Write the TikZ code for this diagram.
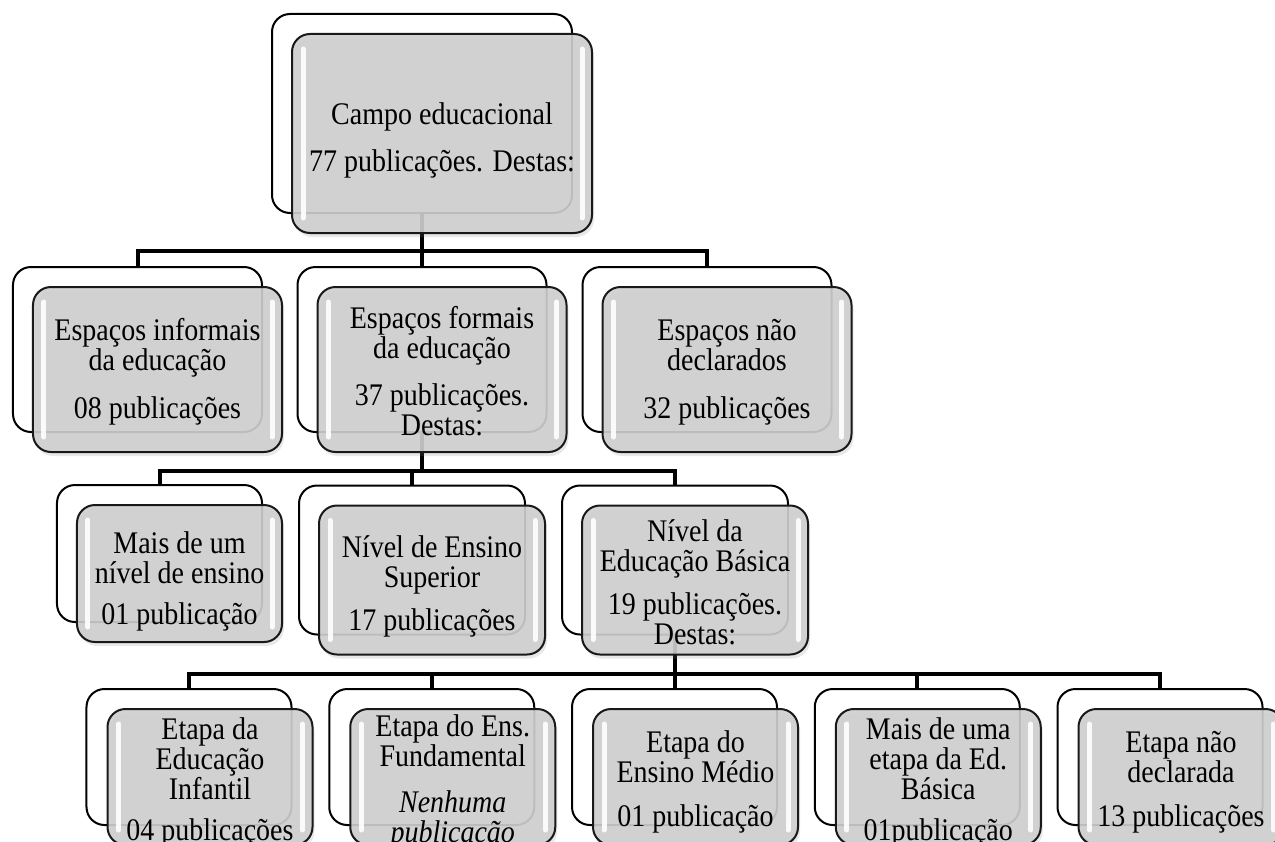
\documentclass[tikz,border=0pt]{standalone}
\usepackage{fontspec}
\setmainfont{Liberation Serif}[FakeStretch=0.89]
\usepackage{tikz}
\usetikzlibrary{calc,positioning,shadows}

\tikzset{
  back/.style={draw=black, line width=0.4mm, fill=white, rounded corners=3.6mm, inner sep=0pt},
  front/.style={draw=black!90, line width=0.4mm, fill=gray!38, fill opacity=0.9,
    rounded corners=3.6mm, inner sep=0pt,
    drop shadow={opacity=0.18, shadow xshift=0.4mm, shadow yshift=-0.8mm}},
  txt/.style={align=center, inner sep=0pt, font=\fontsize{17.9pt}{17.1pt}\selectfont},
  link/.style={line width=0.8mm},
  shine/.style={white, line width=1mm, line cap=round, opacity=0.9},
  lvla/.style={minimum width=60mm, minimum height=39.8mm},
  lvlb/.style={minimum width=49.8mm, minimum height=33mm},
  lvlc/.style={minimum width=41mm, minimum height=27.4mm},
  lvld/.style={minimum width=45.2mm, minimum height=29.8mm},
  lvle/.style={minimum width=41mm, minimum height=27.2mm}
}

\begin{document}
\begin{tikzpicture}[x=0.2mm,y=-0.2mm]
\clip (0,0) rectangle (1275,841);
\node[back,lvla] (bTop) at (422,113.5) {};
\foreach \n/\x in {Inf/137.5,For/422,Nd/707}
  \node[back,lvlb] (b\n) at (\x,349.5) {};
\node[back,lvlc] (bUm) at (159.5,553.5) {};
\foreach \n/\x in {Sup/412,Bas/675}
  \node[back,lvld] (b\n) at (\x,560) {};
\foreach \i/\x in {1/189,2/431.75,3/674.5,4/917.25,5/1160}
  \node[back,lvle] (bE\i) at (\x,757) {};

\foreach \n in {Inf,For,Nd}
  \draw[link] (bTop.south) -- ++(0,37) -| (b\n.north);
\foreach \n in {Um,Sup,Bas}
  \draw[link] (bFor.south) -- ++(0,38) -| (b\n.north);
\foreach \i in {1,...,5}
  \draw[link] (bBas.south) -- ++(0,38) -| (bE\i.north);

\node[front,lvla] (fTop) at ([shift={(20,20)}]bTop.center) {};
\foreach \n in {Inf,For,Nd}
  \node[front,lvlb] (f\n) at ([shift={(20,20)}]b\n.center) {};
\node[front,lvlc] (fUm) at ([shift={(20,20)}]bUm.center) {};
\foreach \n in {Sup,Bas}
  \node[front,lvld] (f\n) at ([shift={(20,20)}]b\n.center) {};
\foreach \i in {1,...,5}
  \node[front,lvle] (fE\i) at ([shift={(21,20)}]bE\i.center) {};

\foreach \n in {fTop,fInf,fFor,fNd,fUm,fSup,fBas,fE1,fE2,fE3,fE4,fE5}
{
  \draw[shine] ([shift={(12,16)}]\n.north west) -- ([shift={(12,-16)}]\n.south west);
  \draw[shine] ([shift={(-11,16)}]\n.north east) -- ([shift={(-11,-16)}]\n.south east);
}

\node[txt] (tTop) at ([shift={(0,7)}]fTop.center) {Campo educacional\\[3.4mm]77 publicações. Destas:};
\node[txt] (tInf) at ([shift={(0,2)}]fInf.center) {Espaços informais\\da educação\\[3.6mm]08 publicações};
\node[txt] (tFor) at ([shift={(0,2)}]fFor.center) {Espaços formais\\da educação\\[3.4mm]37 publicações.\\Destas:};
\node[txt] (tNd) at ([shift={(0,3)}]fNd.center) {Espaços não\\declarados\\[3.6mm]32 publicações};
\node[txt] (tUm) at ([shift={(0,8)}]fUm.center) {Mais de um\\nível de ensino\\[2.2mm]01 publicação};
\node[txt] (tSup) at ([shift={(0,6)}]fSup.center) {Nível de Ensino\\Superior\\[2.6mm]17 publicações};
\node[txt] (tBas) at ([shift={(0,2)}]fBas.center) {Nível da\\Educação Básica\\[2.6mm]19 publicações.\\Destas:};
\foreach \i/\txt in {1/{Etapa da\\Educação\\Infantil\\[2.2mm]04 publicações},
    2/{Etapa do Ens.\\Fundamental\\[3.2mm]\textit{Nenhuma}\\\textit{publicação}},
    3/{Etapa do\\Ensino Médio\\[2.8mm]01 publicação},
    4/{Mais de uma\\etapa da Ed.\\Básica\\[2.2mm]01publicação},
    5/{Etapa não\\declarada\\[2.8mm]13 publicações}}
  \node[txt] (tE\i) at ([shift={(0,5)}]fE\i.center) {\txt};
\end{tikzpicture}
\end{document}
